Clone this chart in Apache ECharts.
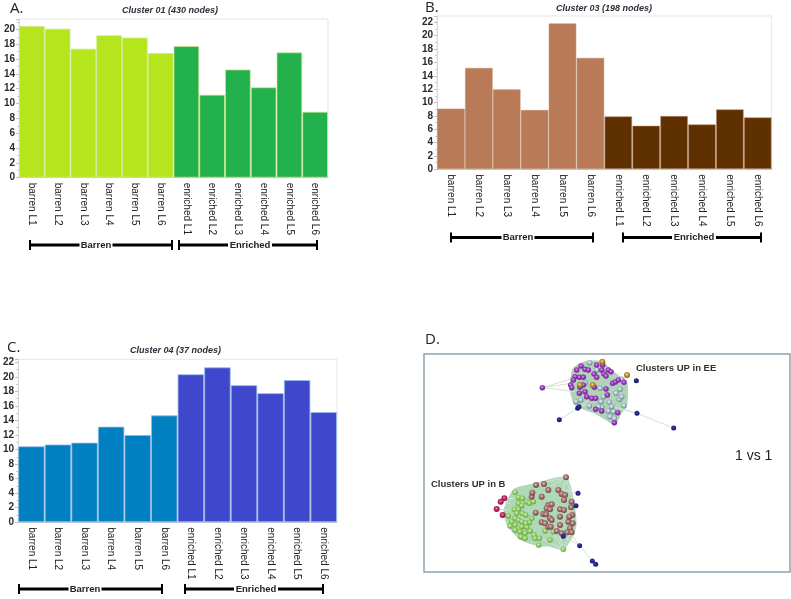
<!DOCTYPE html>
<html><head><meta charset="utf-8">
<style>html,body{margin:0;padding:0;background:#fff}#c{width:791px;height:599px}</style>
<script src="https://cdn.jsdelivr.net/npm/echarts@6/dist/echarts.min.js"></script>
</head><body><div id="c"></div>
<script>
const categories = ['barren L1','barren L2','barren L3','barren L4','barren L5','barren L6','enriched L1','enriched L2','enriched L3','enriched L4','enriched L5','enriched L6'];
const clusterA = [20.45,20.1,17.4,19.2,18.9,16.8,17.75,11.2,14.6,12.2,16.9,8.9];
const clusterB = [9.1,15.2,12.0,8.9,21.85,16.7,7.95,6.55,8.0,6.75,9.0,7.8];
const clusterC = [10.45,10.7,10.95,13.15,12.0,14.7,20.35,21.3,18.85,17.75,19.55,15.15];

// Network nodes
const upperPurple = [[37,113],[140,60],[153,48],[165,58],[175,60],[135,80],[148,82],[160,82],[130,90],[122,105],[125,113],[192,72],[200,82],[215,60],[222,72],[228,78],[235,60],[243,65],[248,100],[256,96],[265,90],[282,97],[148,130],[165,125],[150,112],[160,105],[193,112],[170,140],[185,145],[197,145],[228,117],[232,135],[263,188],[197,178],[215,183],[253,218],[200,45],[218,45]];
const upperPale = [[179,38],[200,60],[275,88],[210,115],[138,155],[152,150],[178,168],[213,155],[238,157],[258,130],[270,118],[268,148],[282,167],[215,172],[235,183],[250,185],[240,200],[253,205],[165,100],[220,140],[245,170],[275,140],[205,170]];
const upperGold = [[217,35],[291,75],[150,105],[188,105]];
const upperNavy = [[319,92],[321,190],[431,234],[88,209],[143,175],[147,170]];
const upperBlob = [[130,55],[165,35],[215,35],[250,65],[290,100],[290,165],[272,192],[255,225],[232,212],[195,190],[135,165],[120,110]];
const upperEdges = [[[37,113],[130,85]],[[37,113],[125,100]],[[37,113],[135,125]],[[321,190],[270,175]],[[321,190],[431,234]],[[88,209],[143,175]],[[143,175],[175,150]],[[147,170],[185,160]],[[321,190],[250,170]]];
const lowerBrown = [[228,22],[138,45],[162,42],[125,80],[127,68],[155,80],[175,60],[205,60],[215,72],[225,75],[222,90],[245,95],[243,112],[175,105],[185,103],[170,115],[180,118],[210,118],[222,120],[137,128],[160,132],[168,133],[180,145],[185,150],[155,157],[165,160],[175,170],[182,170],[210,140],[210,165],[235,155],[247,135],[238,140],[248,160],[240,175],[232,187],[245,187],[200,183],[215,190]];
const lowerGreen = [[75,67],[85,83],[97,85],[110,95],[118,100],[130,95],[85,100],[95,107],[73,118],[85,118],[80,130],[55,138],[97,130],[107,135],[125,145],[118,158],[75,145],[85,150],[95,155],[107,160],[65,155],[60,168],[75,165],[95,170],[110,172],[75,180],[90,185],[105,190],[120,183],[132,195],[92,200],[105,205],[135,205],[148,205],[146,225],[220,238],[165,183],[190,185],[180,210]];
const lowerCrimson = [[43,85],[32,95],[20,117],[38,135]];
const lowerNavy = [[264,70],[258,107],[220,199],[269,227],[307,273],[317,283]];
const lowerBlob = [[72,58],[130,42],[228,22],[252,100],[258,165],[248,198],[220,238],[175,228],[146,228],[90,208],[52,165],[42,120]];
const lowerEdges = [[[228,22],[130,45]],[[228,22],[180,50]],[[228,22],[215,80]],[[228,22],[250,100]],[[220,238],[190,190]],[[220,238],[150,205]],[[220,238],[200,170]],[[220,238],[240,190]],[[269,227],[220,199]],[[269,227],[307,273]],[[269,227],[240,190]],[[43,85],[75,85]],[[20,117],[55,120]],[[38,135],[60,140]],[[32,95],[60,100]],[[258,107],[220,130]],[[264,70],[225,60]],[[307,273],[317,283]]];

const FONT = '"Liberation Sans", Arial, sans-serif';
const panels = [
  {name:'A',data:clusterA,left:19,right:328,top:19,bottom:177.7,max:21.4,c1:'#b5e61d',c2:'#22b14c',edge:'rgba(205,230,130,.7)'},
  {name:'B',data:clusterB,left:437,right:771.7,top:16,bottom:169.3,max:22.95,c1:'#b97a57',c2:'#5f3100',edge:'rgba(190,140,105,.55)'},
  {name:'C',data:clusterC,left:13.3,right:337,top:359.3,bottom:522.3,max:22.4,c1:'#0080c0',c2:'#3f48cc',edge:'rgba(150,185,230,.8)'}
];
const grids=[],xAxes=[],yAxes=[],series=[];
panels.forEach((p,i)=>{
  grids.push({left:p.left,top:p.top,width:p.right-p.left,height:p.bottom-p.top,show:true,borderColor:'#e6e6e6',borderWidth:1,backgroundColor:'#fff'});
  xAxes.push({type:'category',gridIndex:i,data:categories,
    axisLine:{lineStyle:{color:'#c6ced6'}},
    axisTick:{alignWithLabel:true,length:3,lineStyle:{color:'#aab4bd'}},
    axisLabel:{rotate:-90,interval:0,margin:5,fontFamily:FONT,fontSize:10,color:'#222'}});
  yAxes.push({type:'value',gridIndex:i,min:0,max:p.max,interval:2,splitLine:{show:false},
    axisLine:{show:true,lineStyle:{color:'#d6dade'}},
    axisTick:{show:true,length:3,lineStyle:{color:'#b8c0c8'}},
    minorTick:{show:true,splitNumber:2,length:2,lineStyle:{color:'#c8ced4'}},
    axisLabel:{margin:4,fontFamily:FONT,fontSize:10,fontWeight:'bold',color:'#2a2a2a',showMaxLabel:false,
      formatter:v=>v%2===0?String(v):''}});
  series.push({type:'bar',name:'Barren',xAxisIndex:i,yAxisIndex:i,barGap:'-100%',barCategoryGap:0,
    data:p.data.map((v,k)=>k<6?v:null),itemStyle:{color:p.c1,borderColor:p.edge,borderWidth:1},silent:true,animation:false});
  series.push({type:'bar',name:'Enriched',xAxisIndex:i,yAxisIndex:i,barGap:'-100%',barCategoryGap:0,
    data:p.data.map((v,k)=>k>=6?v:null),itemStyle:{color:p.c2,borderColor:p.edge,borderWidth:1},silent:true,animation:false});
});

// Panel D frame (grid 3), upper cluster (grid 4), lower cluster (grid 5)
grids.push({left:424,top:354,width:366,height:218,show:true,borderColor:'#8fa3ad',borderWidth:1.5,backgroundColor:'#fff',z:0});
xAxes.push({type:'value',gridIndex:3,min:0,max:1,show:false});
yAxes.push({type:'value',gridIndex:3,min:0,max:1,show:false});
const clusterAxes=[[4,530,350,160,90,480,270],[5,490,470,120,100,360,300]];
clusterAxes.forEach(([g,l,t,w,h,mx,my])=>{
  grids.push({left:l,top:t,width:w,height:h,show:false});
  xAxes.push({type:'value',gridIndex:g,min:0,max:mx,show:false});
  yAxes.push({type:'value',gridIndex:g,min:0,max:my,inverse:true,show:false});
});
function blob(g,pts,fill){
  series.push({type:'custom',xAxisIndex:g,yAxisIndex:g,silent:true,animation:false,clip:false,z:1,data:[pts.flat()],
    encode:{x:[0],y:[1]},
    renderItem:(params,api)=>({type:'polygon',shape:{points:pts.map(q=>api.coord(q)),smooth:0.2},style:{fill:fill,stroke:fill,lineWidth:1}})});
}
function edges(g,list){
  series.push({type:'lines',coordinateSystem:'cartesian2d',xAxisIndex:g,yAxisIndex:g,silent:true,animation:false,z:2,
    polyline:false,lineStyle:{color:'#cfe3d6',width:1,opacity:1},data:list.map(e=>({coords:e}))});
}
function shaded(light,mid,dark){
  return {type:'radial',x:0.45,y:0.4,r:0.6,colorStops:[{offset:0,color:light},{offset:0.45,color:mid},{offset:1,color:dark}]};
}
function nodes(g,pts,fill,size){
  series.push({type:'scatter',xAxisIndex:g,yAxisIndex:g,silent:true,animation:false,z:3,symbolSize:size,data:pts,
    itemStyle:{opacity:1,color:fill}});
}
blob(4,upperBlob,'#b0d3b8');
edges(4,upperEdges);
nodes(4,upperPale,shaded('#eef4f5','#b4c8d0','#5f7f8c'),5.5);
nodes(4,upperPurple,shaded('#d9a8ea','#9a3dc0','#6f2090'),5.5);
nodes(4,upperGold,shaded('#f0d890','#c4963c','#7f5c1c'),6);
nodes(4,upperNavy,shaded('#4a48a8','#24227f','#1a1868'),5);
blob(5,lowerBlob,'#afd8b6');
edges(5,lowerEdges);
nodes(5,lowerGreen,shaded('#d4f0b0','#98d468','#5f9a42'),5.5);
nodes(5,lowerBrown,shaded('#dfc0ba','#a87672','#6f403c'),6);
nodes(5,lowerCrimson,shaded('#e88aa8','#c02860','#8a1244'),6);
nodes(5,lowerNavy,shaded('#4a48b8','#24228f','#1a1878'),5);

function txt(t,x,y,size,opts){
  return {text:t,left:x,top:y,padding:0,textStyle:Object.assign({fontFamily:FONT,fontSize:size,color:'#222',fontWeight:'normal'},opts||{})};
}
const chartTitle={fontWeight:'bold',fontStyle:'italic',color:'#2b2f38'};
const letter={color:'#222',fontFamily:'"Open Sans",sans-serif'};
const titles=[
  txt('A.',10,1,15,letter),
  txt('B.',425,0,15,letter),
  txt('C.',7,340,15,letter),
  txt('D.',425,332,15,letter),
  txt('Cluster 01 (430 nodes)',122,6,9,chartTitle),
  txt('Cluster 03 (198 nodes)',556,4,9,chartTitle),
  txt('Cluster 04 (37 nodes)',130,346,9,chartTitle),
  txt('Clusters UP in EE',636,363,9.5,{fontWeight:'bold',color:'#333'}),
  txt('Clusters UP in B',431,479,9.5,{fontWeight:'bold',color:'#333'}),
  txt('1 vs 1',735,449,14,{color:'#222'})
];
function bracket(x1,x2,y,label,cx){
  const w=label==='Barren'?33:44;
  const line=(a,b,c,d,lw)=>({type:'line',shape:{x1:a,y1:b,x2:c,y2:d},style:{stroke:'#000',lineWidth:lw},z:10});
  return [line(x1,y,cx-w/2,y,3),line(cx+w/2,y,x2,y,3),line(x1,y-5,x1,y+5,2),line(x2,y-5,x2,y+5,2),
    {type:'text',x:cx,y:y,z:10,style:{text:label,x:0,y:0,align:'center',verticalAlign:'middle',font:'bold 9.5px '+FONT,fill:'#222'}}];
}
const graphic=[].concat(
  bracket(30,172,245,'Barren',96),bracket(179,317,245,'Enriched',250),
  bracket(451,593,237.5,'Barren',518),bracket(623,761,237.5,'Enriched',694),
  bracket(19,162,589,'Barren',85),bracket(185,323,589,'Enriched',256));

const chart=echarts.init(document.getElementById('c'),null,{renderer:'canvas'});
chart.setOption({animation:false,backgroundColor:'#fff',tooltip:{show:false},legend:{show:false},
  title:titles,grid:grids,xAxis:xAxes,yAxis:yAxes,series:series,graphic:graphic});
</script></body></html>
